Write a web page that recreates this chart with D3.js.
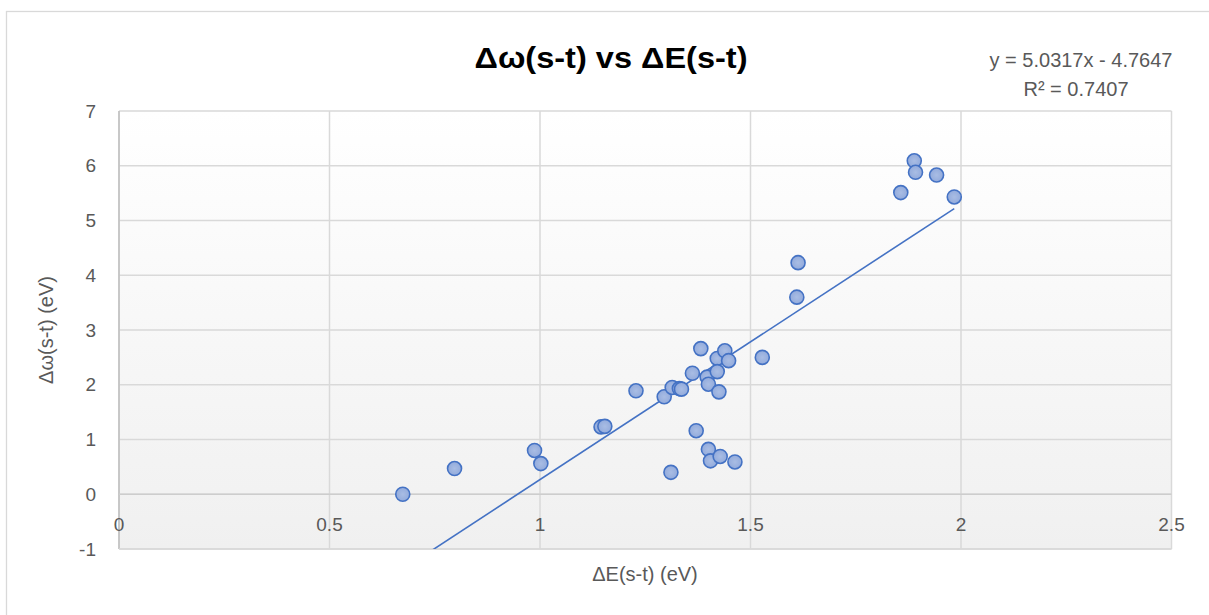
<!DOCTYPE html>
<html><head><meta charset="utf-8">
<script src="https://cdn.jsdelivr.net/npm/d3@7"></script>
<style>
body{margin:0;background:#fff;}
svg{display:block;}
text{font-family:"Liberation Sans","Open Sans",sans-serif;}
</style></head>
<body>
<svg id="chart" width="1209" height="615"></svg>
<script>
// Data: ΔE(s-t) (eV) vs Δω(s-t) (eV)
const xValues = [0.674,0.797,0.987,1.002,1.145,1.154,1.228,1.295,1.314,1.331,1.336,1.362,1.382,1.397,1.400,1.421,1.421,1.425,1.439,1.448,1.528,
                 1.311,1.371,1.400,1.405,1.428,1.463,
                 1.610,1.613,1.857,1.889,1.892,1.942,1.984];
const yValues = [0.00,0.47,0.80,0.56,1.23,1.24,1.89,1.78,1.95,1.93,1.92,2.21,2.66,2.14,2.01,2.48,2.24,1.87,2.62,2.44,2.50,
                 0.40,1.16,0.82,0.61,0.69,0.59,
                 3.60,4.23,5.51,6.09,5.88,5.83,5.43];
const xTicks = [0,0.5,1,1.5,2,2.5];
const yTicks = [-1,0,1,2,3,4,5,6,7];
const slope = 5.0317, intercept = -4.7647;
const rSquared = 0.7407;
const titleText = "Δω(s-t) vs ΔE(s-t)";
const xTitle = "ΔE(s-t) (eV)";
const yTitle = "Δω(s-t) (eV)";

const svg = d3.select("#chart");
const L = 119, R = 1171.5, T = 111, B = 549;
const x = d3.scaleLinear().domain([0,2.5]).range([L,R]);
const y = d3.scaleLinear().domain([-1,7]).range([B,T]);

// outer chart border
svg.append("rect").attr("x",6.5).attr("y",11.5).attr("width",1240).attr("height",700)
  .attr("fill","#fff").attr("stroke","#d9d9d9").attr("stroke-width",1.3);

const defs = svg.append("defs");
const g = defs.append("linearGradient").attr("id","bg").attr("x1",0).attr("y1",0).attr("x2",0).attr("y2",1);
g.append("stop").attr("offset","0%").attr("stop-color","#ffffff");
g.append("stop").attr("offset","100%").attr("stop-color","#f0f0f0");
const mg = defs.append("radialGradient").attr("id","mk").attr("cx","50%").attr("cy","50%").attr("r","60%");
mg.append("stop").attr("offset","0%").attr("stop-color","#a9bde4");
mg.append("stop").attr("offset","100%").attr("stop-color","#8ea7da");
defs.append("clipPath").attr("id","clip").append("rect").attr("x",L).attr("y",T).attr("width",R-L).attr("height",B-T);

svg.append("rect").attr("x",L).attr("y",T).attr("width",R-L).attr("height",B-T).attr("fill","url(#bg)");

// gridlines
svg.append("g").selectAll("line").data(yTicks).join("line")
  .attr("x1",L).attr("x2",R).attr("y1",d=>y(d)).attr("y2",d=>y(d))
  .attr("stroke","#d9d9d9").attr("stroke-width",1.5);
svg.append("g").selectAll("line").data(xTicks).join("line")
  .attr("y1",T).attr("y2",B).attr("x1",d=>x(d)).attr("x2",d=>x(d))
  .attr("stroke","#d9d9d9").attr("stroke-width",1.5);
// axis lines (y axis at x=0, x axis at y=0)
svg.append("line").attr("x1",L).attr("x2",L).attr("y1",T).attr("y2",B).attr("stroke","#bfbfbf").attr("stroke-width",1.5);
svg.append("line").attr("x1",L).attr("x2",R).attr("y1",y(0)).attr("y2",y(0)).attr("stroke","#cdcdcd").attr("stroke-width",1.5);
svg.append("line").attr("x1",L).attr("x2",R).attr("y1",B).attr("y2",B).attr("stroke","#d9d9d9").attr("stroke-width",1.5);

// tick labels
svg.append("g").selectAll("text").data(yTicks).join("text")
  .attr("x",96).attr("y",d=>y(d)).attr("dy","0.35em").attr("text-anchor","end")
  .attr("font-size",19).attr("fill","#595959").text(d=>d);
svg.append("g").selectAll("text").data(xTicks).join("text")
  .attr("x",d=>x(d)).attr("y",y(0)+37).attr("text-anchor","middle")
  .attr("font-size",19).attr("fill","#595959").text(d=>d);

// trendline
const xmin = d3.min(xValues), xmax = d3.max(xValues);
svg.append("line").attr("clip-path","url(#clip)")
  .attr("x1",x(xmin)).attr("y1",y(slope*xmin+intercept))
  .attr("x2",x(xmax)).attr("y2",y(slope*xmax+intercept))
  .attr("stroke","#4472c4").attr("stroke-width",1.6);

// points
svg.append("g").selectAll("circle").data(xValues.map((v,i)=>[v,yValues[i]])).join("circle")
  .attr("cx",d=>x(d[0])).attr("cy",d=>y(d[1])).attr("r",7)
  .attr("fill","url(#mk)").attr("stroke","#4472c4").attr("stroke-width",1.6);

// titles
svg.append("text").attr("x",611).attr("y",68).attr("text-anchor","middle")
  .attr("font-size",29).attr("font-weight","bold").attr("fill","#000")
  .attr("textLength",273).attr("lengthAdjust","spacingAndGlyphs").text(titleText);
svg.append("text").attr("x",645).attr("y",581).attr("text-anchor","middle")
  .attr("font-size",20).attr("fill","#595959").text(xTitle);
svg.append("text").attr("transform","translate(46,330) rotate(-90)").attr("text-anchor","middle")
  .attr("dy","0.35em").attr("font-size",20).attr("fill","#595959").text(yTitle);

// equation
svg.append("text").attr("x",1081).attr("y",67).attr("text-anchor","middle")
  .attr("font-size",20).attr("fill","#595959").text(`y = ${slope}x - ${Math.abs(intercept)}`);
svg.append("text").attr("x",1076).attr("y",96).attr("text-anchor","middle")
  .attr("font-size",20).attr("fill","#595959").text(`R² = ${rSquared}`);
</script>
</body></html>
